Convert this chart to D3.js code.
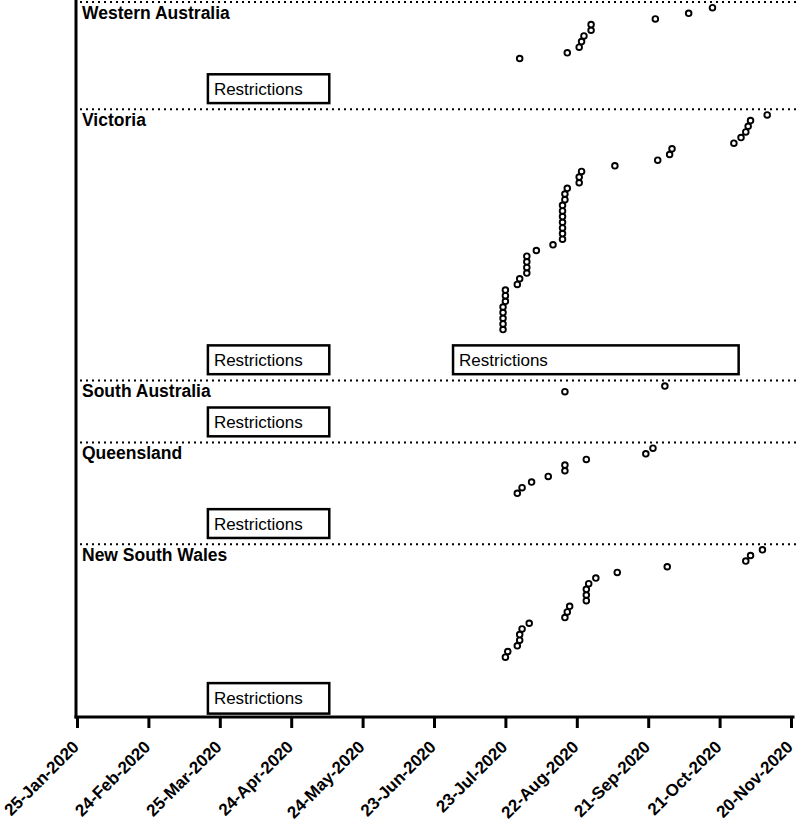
<!DOCTYPE html>
<html>
<head>
<meta charset="utf-8">
<script src="https://cdn.jsdelivr.net/npm/d3@7"></script>
<style>
  body { margin: 0; background: #fff; }
  text { font-family: "Liberation Sans", Arial, Helvetica, sans-serif; fill: #000; }
</style>
</head>
<body>
<svg id="chart" width="796" height="825"></svg>
<script>
// ---------------- DATA ----------------
const states = ["Western Australia", "Victoria", "South Australia", "Queensland", "New South Wales"];

const waDates = ["2020-07-29","2020-08-18","2020-08-23","2020-08-24","2020-08-25","2020-08-28","2020-08-28",
  "2020-09-24","2020-10-08","2020-10-18"];

const vicDates = ["2020-07-22","2020-07-22","2020-07-22","2020-07-22","2020-07-22",
  "2020-07-23","2020-07-23","2020-07-23","2020-07-28","2020-07-29",
  "2020-08-01","2020-08-01","2020-08-01","2020-08-01","2020-08-05","2020-08-12",
  "2020-08-16","2020-08-16","2020-08-16","2020-08-16","2020-08-16","2020-08-16","2020-08-16",
  "2020-08-17","2020-08-17","2020-08-18","2020-08-23","2020-08-23","2020-08-24",
  "2020-09-07","2020-09-25","2020-09-30","2020-10-01",
  "2020-10-27","2020-10-30","2020-11-01","2020-11-02","2020-11-03","2020-11-10"];

const saDates = ["2020-08-17","2020-09-28"];

const qldDates = ["2020-07-28","2020-07-30","2020-08-03","2020-08-10","2020-08-17","2020-08-17",
  "2020-08-26","2020-09-20","2020-09-23"];

const nswDates = ["2020-07-23","2020-07-24","2020-07-28","2020-07-29","2020-07-29","2020-07-30",
  "2020-08-02","2020-08-17","2020-08-18","2020-08-19","2020-08-26","2020-08-26","2020-08-26",
  "2020-08-27","2020-08-30","2020-09-08","2020-09-29","2020-11-01","2020-11-03","2020-11-08"];

const restrictionState = ["Western Australia","Victoria","Victoria","South Australia","Queensland","New South Wales"];
const restrictionStart = ["2020-03-20","2020-03-20","2020-07-01","2020-03-20","2020-03-20","2020-03-20"];
const restrictionEnd   = ["2020-05-10","2020-05-10","2020-10-29","2020-05-10","2020-05-10","2020-05-10"];

const tickLabels = ["2020-01-25","2020-02-24","2020-03-25","2020-04-24","2020-05-24","2020-06-23",
  "2020-07-23","2020-08-22","2020-09-21","2020-10-21","2020-11-20"];

// ---------------- LAYOUT ----------------
const parse = d3.utcParse("%Y-%m-%d");
const fmt = d3.utcFormat("%d-%b-%Y");
const stateDates = [waDates, vicDates, saDates, qldDates, nswDates];

const plotTop = 2, plotBottom = 717, axisX = 76;
const panelLo = [-8, -8, -8, -8, -9.6];
const boxRange = [[-6.9,-1.8],[-6.9,-1.8],[-6.9,-1.8],[-6.9,-1.8],[-9.0,-3.6]];

const panels = states.map((s, i) => ({
  name: s, dates: stateDates[i].map(parse), lo: panelLo[i], hi: stateDates[i].length + 1, box: boxRange[i]
}));
const totalUnits = d3.sum(panels, p => p.hi - p.lo);
const unit = d3.scaleLinear().domain([0, totalUnits]).range([plotTop, plotBottom]);
let acc = 0;
panels.forEach(p => {
  const top = unit(acc); acc += p.hi - p.lo; const bottom = unit(acc);
  p.top = top; p.bottom = bottom;
  p.y = d3.scaleLinear().domain([p.lo, p.hi]).range([bottom, top]);
});

const x = d3.scaleUtc().domain([parse("2020-01-25"), parse("2020-11-20")]).range([77, 791]);

const svg = d3.select("#chart");

// dotted separators
svg.append("g").selectAll("line").data(panels).join("line")
  .attr("x1", 80).attr("x2", 796)
  .attr("y1", p => p.top).attr("y2", p => p.top)
  .attr("stroke", "#000").attr("stroke-width", 2)
  .attr("stroke-dasharray", "2 4");

// state labels
svg.append("g").selectAll("text").data(panels).join("text")
  .attr("x", 82).attr("y", p => p.top + 16.5)
  .attr("font-size", 17.5).attr("font-weight", "bold")
  .text(p => p.name);

// restriction boxes
const boxes = restrictionState.map((s, i) => {
  const p = panels[states.indexOf(s)];
  return { p, start: parse(restrictionStart[i]), end: parse(restrictionEnd[i]) };
});
const bg = svg.append("g").selectAll("g").data(boxes).join("g");
bg.append("rect")
  .attr("x", d => x(d.start)).attr("width", d => x(d.end) - x(d.start))
  .attr("y", d => d.p.y(d.p.box[1])).attr("height", d => d.p.y(d.p.box[0]) - d.p.y(d.p.box[1]))
  .attr("fill", "#fff").attr("stroke", "#000").attr("stroke-width", 2.5);
bg.append("text")
  .attr("x", d => x(d.start) + 6)
  .attr("y", d => (d.p.y(d.p.box[0]) + d.p.y(d.p.box[1])) / 2 + 6)
  .attr("font-size", 17)
  .text("Restrictions");

// points
panels.forEach(p => {
  svg.append("g").selectAll("circle").data(p.dates).join("circle")
    .attr("cx", d => x(d)).attr("cy", (d, i) => p.y(i + 1))
    .attr("r", 2.8).attr("fill", "#fff").attr("stroke", "#000").attr("stroke-width", 1.9);
});

// left axis line
svg.append("line").attr("x1", axisX).attr("x2", axisX).attr("y1", 0).attr("y2", plotBottom + 1.5)
  .attr("stroke", "#000").attr("stroke-width", 3);

// bottom axis
const xAxis = d3.axisBottom(x).tickValues(tickLabels.map(parse)).tickFormat(fmt)
  .tickSize(11).tickSizeOuter(0);
const ax = svg.append("g").attr("transform", `translate(0,${plotBottom})`).call(xAxis);
ax.select(".domain").attr("stroke-width", 3).attr("stroke-linecap", "square").attr("d", `M${axisX},0H793`);
ax.selectAll(".tick line").attr("stroke-width", 3);
ax.selectAll(".tick text")
  .attr("font-family", "Liberation Sans, Arial, sans-serif")
  .attr("font-size", 17).attr("font-weight", "bold").attr("fill", "#000")
  .attr("text-anchor", "end")
  .attr("x", 0).attr("y", 0).attr("dy", 0)
  .attr("transform", "translate(2.5,31) rotate(-45)");
</script>
</body>
</html>
